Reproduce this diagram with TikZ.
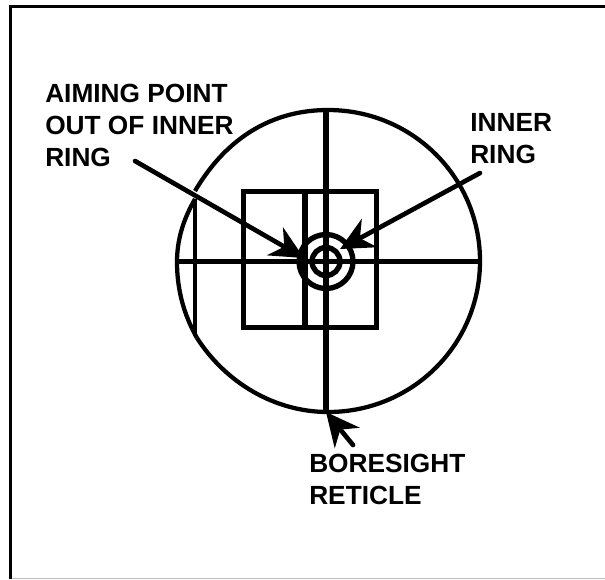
\documentclass[tikz,border=0pt]{standalone}
\usepackage{fontspec}
\setmainfont{Liberation Sans}
\usetikzlibrary{arrows.meta}

\begin{document}
\begin{tikzpicture}[x=0.75pt,y=0.75pt,yscale=-1,xscale=1,
  reticle/.style={draw=black,line width=3.2pt},
  thick line/.style={draw=black,line width=4pt},
  leader/.style={draw=black,line width=3.5pt,line cap=round,-{Stealth[length=25pt,width=24pt,inset=8pt]}},
  callout/.style={anchor=base west,inner sep=0pt,align=left,font=\bfseries\fontsize{19.7}{24}\selectfont}]
\useasboundingbox (0,0) rectangle (605,579);

%Straight Lines
\draw [draw=black,line width=2.6pt]  (10.5,579) -- (10.5,6.5) -- (605,6.5) ;
%Straight Lines
\draw [draw=black!25,line width=1pt]  (12,578.2) -- (605,578.2) ;

%Shape: Arc
\draw [reticle]  (195,191) .. controls (228,135) and (275,110) .. (328,110) .. controls (412,110) and (480,177) .. (480,261) .. controls (480,345) and (412,412) .. (328,412) .. controls (275,412) and (226,383) .. (197,338) ;
%Shape: Arc
\draw [reticle]  (195,199) .. controls (183,220) and (177,240) .. (177,262) .. controls (177,290) and (184,315) .. (197,338) ;

%Straight Lines
\draw [thick line]  (326,110) -- (326,412) ;
%Straight Lines
\draw [thick line]  (176,261.5) -- (480,261.5) ;
%Straight Lines
\draw [reticle]  (195,199) -- (195,336) ;
%Straight Lines
\draw [thick line]  (305,191) -- (305,328) ;

%Shape: Rectangle
\draw [thick line]  (243.5,191.5) rectangle (376.5,327.5) ;

%Shape: Circle
\draw [thick line]  (326,261.5) circle [radius=27] ;
%Shape: Circle
\draw [thick line]  (326,261.5) circle [radius=14] ;

% Text Node
\node (aimpoint) [callout] at (45,166) {AIMING POINT\\OUT OF INNER\\RING};
% Text Node
\node (innerring) [callout] at (470,163) {INNER\\RING};
% Text Node
\node (boresight) [callout] at (309,504) {BORESIGHT\\RETICLE};

\coordinate (aimstart) at (135,161);
\coordinate (aimtip) at (304,258);
\coordinate (ringstart) at (480,173);
\coordinate (ringtip) at (340,249);
\coordinate (borestart) at (353,445);
\coordinate (boretip) at (326,412);

%Straight Lines
\draw [leader]  (aimstart) -- (aimtip) ;
%Straight Lines
\draw [leader]  (ringstart) -- (ringtip) ;
%Straight Lines
\draw [leader]  (borestart) -- (boretip) ;

\end{tikzpicture}
\end{document}
